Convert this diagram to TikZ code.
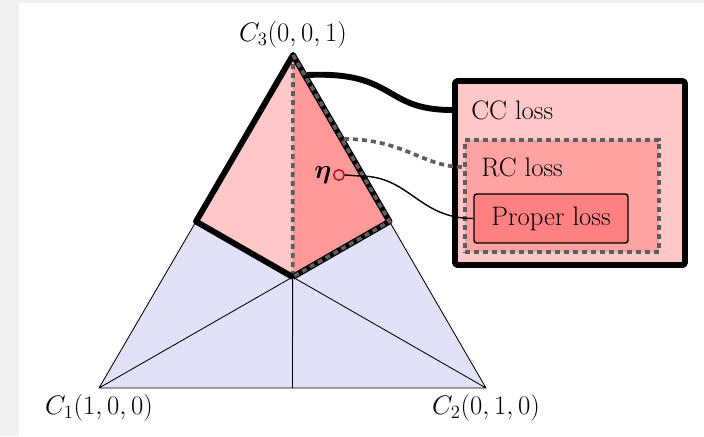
\documentclass[tikz,border=0pt]{standalone}
\usepackage{fix-cm}
\usepackage{bm}
\usetikzlibrary{calc}
\definecolor{simplexblue}{HTML}{E1E1F8}
\definecolor{kitelight}{HTML}{FFC8C8}
\definecolor{kitedark}{HTML}{FF9898}
\definecolor{rcpink}{HTML}{FFA2A2}
\definecolor{properpink}{HTML}{FF8080}
\definecolor{dotgray}{HTML}{5E5E5E}
\definecolor{etared}{HTML}{A0102A}
\definecolor{framegray}{HTML}{F0F0F0}
\begin{document}
\begin{tikzpicture}[x=0.025cm,y=-0.025cm,font=\fontsize{19}{23}\selectfont,
  thinline/.style={line width=0.6pt},
  thickline/.style={line width=4.2pt,line join=round},
  dotline/.style={draw=dotgray,line width=2.6pt,dash pattern=on 3.6pt off 2.8pt},
  ccbox/.style={draw,thickline,fill=kitelight,rounded corners=2pt,inner sep=0pt},
  rcbox/.style={dotline,fill=rcpink,inner sep=0pt},
  properbox/.style={draw,line width=1pt,fill=properpink,rounded corners=2pt,inner sep=0pt}]
  % frame
  \fill[framegray] (0,0) rectangle (704,436);
  \fill[white] (19,3) rectangle (704,436);
  \useasboundingbox (0,0) rectangle (704,436);
  % simplex
  \coordinate (C1) at (99,388);
  \coordinate (C2) at (486,388);
  \coordinate (C3) at (293,55);
  \coordinate (G) at (barycentric cs:C1=1,C2=1,C3=1);
  \coordinate (M13) at ($(C1)!0.5!(C3)$);
  \coordinate (M23) at ($(C2)!0.5!(C3)$);
  \coordinate (M12) at ($(C1)!0.5!(C2)$);
  \fill[simplexblue] (C1) -- (C2) -- (C3) -- cycle;
  \draw[thinline] (C1) -- (G) -- (C2) (G) -- (M12) (C1) -- (C2) -- (C3) -- cycle;
  \fill[kitelight] (C3) -- (M13) -- (G) -- cycle;
  \fill[kitedark] (C3) -- (M23) -- (G) -- cycle;
  \draw[dotline] (C3) -- (G);
  \draw[thickline] (G) -- (M13) -- (C3) -- (M23) -- (G);
  \draw[dotline] (C3) -- (M23) -- (G);
  \node (c1label) at (99,408) {$C_1(1,0,0)$};
  \node (c2label) at (486,408) {$C_2(0,1,0)$};
  \node (c3label) at (293,35) {$C_3(0,0,1)$};
  % eta
  \node[circle,draw=etared,line width=1pt,fill=kitedark,minimum size=7.5pt,inner sep=0pt] (eta) at (339,175) {};
  \node[left,inner sep=1pt] (etalabel) at (eta.west) {$\bm{\eta}$};
  % loss boxes
  \node[ccbox,minimum width=163.6pt,minimum height=130.9pt] (cc) at (570,173) {};
  \node[rcbox,minimum width=138pt,minimum height=79.7pt] (rc) at (562,196) {};
  \node[properbox,minimum width=109.5pt,minimum height=34.9pt] (proper) at (551,218.5) {Proper loss};
  \node[anchor=west,inner sep=0pt] (cclabel) at (471,110) {CC loss};
  \node[anchor=west,inner sep=0pt] (rclabel) at (481,167) {RC loss};
  % connectors
  \coordinate (ccfoot) at (307,75);
  \coordinate (rcfoot) at (344,139);
  \draw[thickline] (ccfoot) .. controls +(90,-4) and +(-70,0) .. (cc.west |- cclabel);
  \draw[dotline] (rcfoot) .. controls +(60,0) and +(-40,0) .. (rc.west |- rclabel);
  \draw[line width=1pt] (eta.east) -- ++(15,1) .. controls +(50,0) and +(-55,0) .. (proper.west);
\end{tikzpicture}
\end{document}
